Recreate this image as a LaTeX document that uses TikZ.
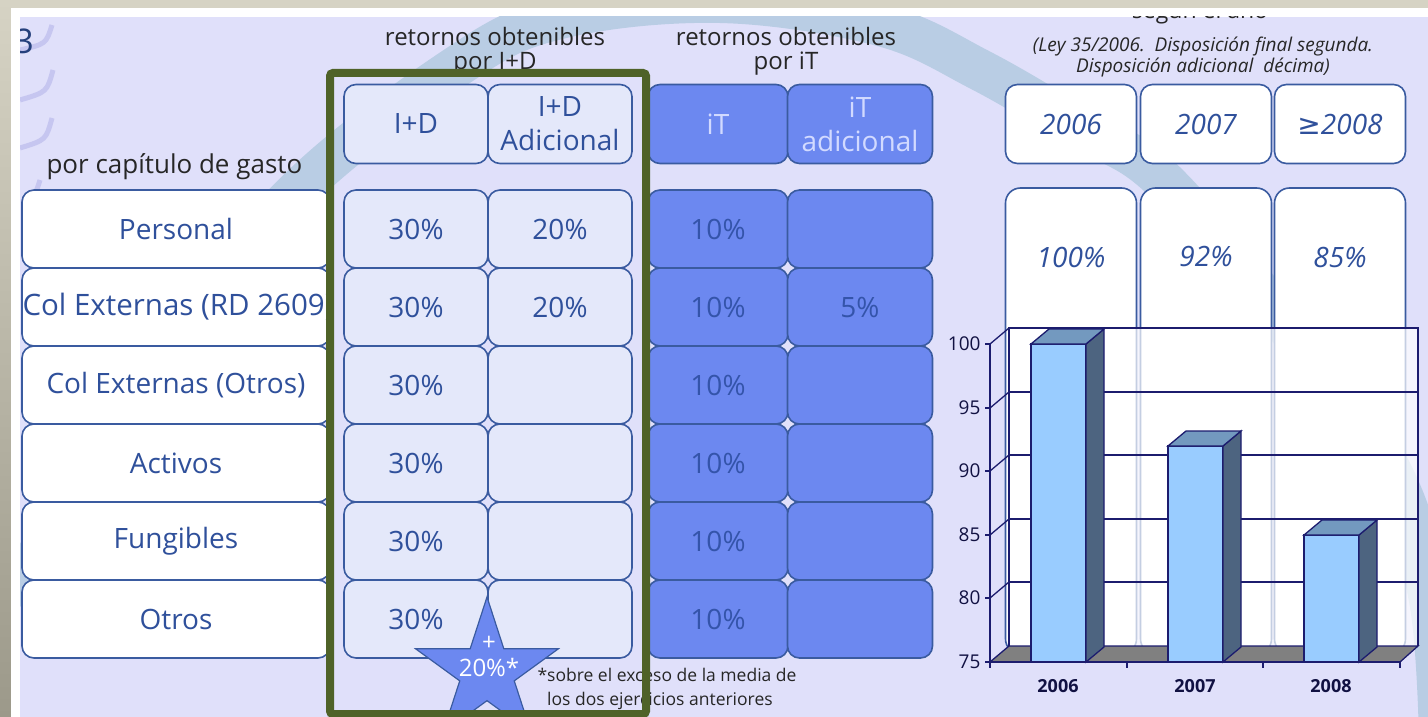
\documentclass[tikz,border=0pt]{standalone}
\usepackage{fontspec}
\setmainfont{Open Sans}
\newfontfamily\dejavu{DejaVu Sans}
\usetikzlibrary{shapes.geometric, positioning}
\definecolor{slidebg}{RGB}{224,224,250}
\definecolor{edgebeige}{RGB}{214,211,196}
\definecolor{edgedark}{RGB}{156,153,138}
\definecolor{swoosh}{RGB}{185,205,228}
\definecolor{decor}{RGB}{198,198,240}
\definecolor{boxline}{RGB}{58,91,160}
\definecolor{txtblue}{RGB}{47,80,155}
\definecolor{idfill}{RGB}{228,232,250}
\definecolor{itfill}{RGB}{108,136,240}
\definecolor{itlight}{RGB}{210,218,255}
\definecolor{itdark}{RGB}{52,84,170}
\definecolor{oliveframe}{RGB}{79,98,40}
\definecolor{chartnavy}{RGB}{28,28,110}
\definecolor{barfront}{RGB}{153,204,255}
\definecolor{barside}{RGB}{77,100,128}
\definecolor{bartop}{RGB}{115,153,191}
\definecolor{floorgray}{RGB}{128,128,128}

\begin{document}
\begin{tikzpicture}[x=1pt, y=-1pt,
  tbox/.style={draw=boxline, line width=1.6, rounded corners=12, inner sep=0pt, align=center, text=txtblue, font=\fontsize{28}{34}\selectfont},
  cell/.style={tbox, minimum width=#1, minimum height=78},
  hcell/.style={tbox, minimum width=#1, minimum height=79},
  pcttxt/.style={text=txtblue, font=\fontsize{28}{34}\selectfont\itshape},
  htitle/.style={align=center, text=black!85, font=\fontsize{24}{24}\selectfont},
  chartline/.style={draw=chartnavy, line width=1.3},
  axnum/.style={anchor=east, text=chartnavy!60!black, font=\fontsize{19}{19}\selectfont},
  yearlbl/.style={text=chartnavy!60!black, font=\fontsize{18}{18}\selectfont\bfseries},
]
  \useasboundingbox (0,0) rectangle (1428,717);
  \fill[edgebeige] (0,0) rectangle (1428,8);
  \shade[top color=edgebeige, bottom color=edgedark] (0,0) rectangle (11,717);
  \fill[white] (11,8) rectangle (1428,717);
  \begin{scope}
  \clip (20,17) rectangle (1428,717);
  \fill[slidebg] (20,17) rectangle (1428,717);
  \draw[swoosh, line width=42] plot[smooth, tension=0.6] coordinates {(10,600) (150,380) (288,200) (456,67) (560,18) (720,2) (880,25) (980,70) (1080,128) (1163,180) (1290,330) (1390,470) (1430,600) (1440,740)};
  \draw[decor, line width=5] (52,25) .. controls (46,44) .. (20,50) (53,70) .. controls (47,92) .. (20,100) (52,118) .. controls (46,140) .. (20,148) (40,180) .. controls (35,196) .. (22,202);
  \node[text=txtblue!80!black, font=\fontsize{34}{34}\selectfont] (three) at (24,41) {3};
  \node[anchor=base, text=black!85, font=\fontsize{23}{23}\selectfont] (segun) at (1200,19) {según el año};

  \node[htitle] (tid) at (495,51) {retornos obtenibles\\por I+D};
  \node[htitle] (tit) at (786,51) {retornos obtenibles\\por iT};
  \node[anchor=west, text=black!85, font=\fontsize{26}{30}\selectfont] (gasto) at (43,167) {por capítulo de gasto};
  \node[align=center, text=black!85, font=\fontsize{19}{17.5}\selectfont\itshape] (ley) at (1203,57) {(Ley 35/2006.\ \ Disposición final segunda.\\Disposición adicional\ \ décima)};

  \node[cell=308, fill=white] (personal) at (176,229) {Personal};
  \node[cell=308, fill=white] (colrd) at (176,307) {\makebox[0pt]{\hspace{4pt}\fontsize{29.5}{34}\selectfont Col Externas (RD 2609)}};
  \node[cell=308, fill=white] (colotros) at (176,385) {Col Externas (Otros)};
  \node[cell=308, fill=white] (activos) at (176,463) {Activos};
  \node[cell=308, fill=white] (fungibles) at (176,541) {Fungibles};
  \node[cell=308, fill=white] (otros) at (176,619) {Otros};

  \node[hcell=144, fill=idfill] (hid) at (416,124) {I+D};
  \node[hcell=144, fill=idfill] (hidad) at (560,124) {I+D\\Adicional};
  \node[cell=144, fill=idfill] (id1) at (416,229) {30\%};
  \node[cell=144, fill=idfill] (id2) at (416,307) {30\%};
  \node[cell=144, fill=idfill] (id3) at (416,385) {30\%};
  \node[cell=144, fill=idfill] (id4) at (416,463) {30\%};
  \node[cell=144, fill=idfill] (id5) at (416,541) {30\%};
  \node[cell=144, fill=idfill] (id6) at (416,619) {30\%};
  \node[cell=144, fill=idfill] (ad1) at (560,229) {20\%};
  \node[cell=144, fill=idfill] (ad2) at (560,307) {20\%};
  \node[cell=144, fill=idfill] (ad3) at (560,385) {};
  \node[cell=144, fill=idfill] (ad4) at (560,463) {};
  \node[cell=144, fill=idfill] (ad5) at (560,541) {};
  \node[cell=144, fill=idfill] (ad6) at (560,619) {};

  \node[hcell=140, fill=itfill, text=itlight] (hit) at (718,124) {iT};
  \node[hcell=145, fill=itfill, text=itlight] (hitad) at (860,124) {iT\\adicional};
  \node[cell=140, fill=itfill, text=itdark] (it1) at (718,229) {10\%};
  \node[cell=140, fill=itfill, text=itdark] (it2) at (718,307) {10\%};
  \node[cell=140, fill=itfill, text=itdark] (it3) at (718,385) {10\%};
  \node[cell=140, fill=itfill, text=itdark] (it4) at (718,463) {10\%};
  \node[cell=140, fill=itfill, text=itdark] (it5) at (718,541) {10\%};
  \node[cell=140, fill=itfill, text=itdark] (it6) at (718,619) {10\%};
  \node[cell=145, fill=itfill, text=itdark] (ita1) at (860,229) {};
  \node[cell=145, fill=itfill, text=itdark] (ita2) at (860,307) {5\%};
  \node[cell=145, fill=itfill, text=itdark] (ita3) at (860,385) {};
  \node[cell=145, fill=itfill, text=itdark] (ita4) at (860,463) {};
  \node[cell=145, fill=itfill, text=itdark] (ita5) at (860,541) {};
  \node[cell=145, fill=itfill, text=itdark] (ita6) at (860,619) {};

  \node[hcell=131, fill=white, font=\fontsize{28}{34}\selectfont\itshape] (y06) at (1071,124) {2006};
  \node[hcell=131, fill=white, font=\fontsize{28}{34}\selectfont\itshape] (y07) at (1206,124) {2007};
  \node[hcell=131, fill=white, font=\fontsize{28}{34}\selectfont\itshape] (y08) at (1340,124) {{\dejavu\itshape ≥}2008};
  \node[tbox, fill=white, rounded corners=15, minimum width=131, minimum height=466] (p06) at (1071,421) {};
  \node[tbox, fill=white, rounded corners=15, minimum width=131, minimum height=466] (p07) at (1206,421) {};
  \node[tbox, fill=white, rounded corners=15, minimum width=131, minimum height=466] (p08) at (1340,421) {};
  \node[pcttxt] (t06) at (1071,257) {100\%};
  \node[pcttxt] (t07) at (1206,257) {92\%};
  \node[pcttxt] (t08) at (1340,257) {85\%};

  \fill[white, opacity=0.7] (1009,328) rectangle (1418,646);
  \draw[chartline] (1009,646) -- (1009,328) -- (1418,328) -- (1418,646);
  \draw[chartline] (1009,392) -- (1418,392) (1009,455) -- (1418,455) (1009,519) -- (1418,519) (1009,582) -- (1418,582);
  \draw[chartline] (990,344) -- (1009,328) (990,408) -- (1009,392) (990,471) -- (1009,455) (990,535) -- (1009,519) (990,598) -- (1009,582);
  \filldraw[chartline, fill=floorgray] (990,662) -- (1400,662) -- (1418,646) -- (1009,646) -- cycle;
  \draw[chartline] (990,344) -- (990,662) -- (1400,662);
  \draw[chartline] (985,344) -- (990,344) (985,408) -- (990,408) (985,471) -- (990,471) (985,535) -- (990,535) (985,598) -- (990,598) (985,662) -- (990,662);
  \draw[chartline] (990,662) -- (990,668) (1127,662) -- (1127,668) (1263,662) -- (1263,668) (1400,662) -- (1400,668);
  \filldraw[chartline, fill=barfront] (1031,662) rectangle (1086,344);
  \filldraw[chartline, fill=barside] (1086,662) -- (1104,647) -- (1104,329) -- (1086,344) -- cycle;
  \filldraw[chartline, fill=bartop] (1031,344) -- (1049,329) -- (1104,329) -- (1086,344) -- cycle;
  \filldraw[chartline, fill=barfront] (1168,662) rectangle (1223,446);
  \filldraw[chartline, fill=barside] (1223,662) -- (1241,647) -- (1241,431) -- (1223,446) -- cycle;
  \filldraw[chartline, fill=bartop] (1168,446) -- (1186,431) -- (1241,431) -- (1223,446) -- cycle;
  \filldraw[chartline, fill=barfront] (1304,662) rectangle (1359,535);
  \filldraw[chartline, fill=barside] (1359,662) -- (1377,647) -- (1377,520) -- (1359,535) -- cycle;
  \filldraw[chartline, fill=bartop] (1304,535) -- (1322,520) -- (1377,520) -- (1359,535) -- cycle;
  \node[axnum] (v100) at (984,344) {100};
  \node[axnum] (v95) at (984,408) {95};
  \node[axnum] (v90) at (984,471) {90};
  \node[axnum] (v85) at (984,535) {85};
  \node[axnum] (v80) at (984,598) {80};
  \node[axnum] (v75) at (984,662) {75};
  \node[yearlbl] (c06) at (1058,686) {2006};
  \node[yearlbl] (c07) at (1195,686) {2007};
  \node[yearlbl] (c08) at (1331,686) {2008};

  \node[star, star points=5, star point ratio=2.618, minimum size=150, inner sep=0pt, fill=itfill, draw=boxline, line width=1.2] (star) at (487,672) {};
  \node[align=center, text=white, font=\fontsize{24}{26}\selectfont] (startxt) at (489,656) {+\\20\%*};
  \node[anchor=north west, align=left, text=black!85, font=\fontsize{17.5}{24}\selectfont] (nota) at (534,665) {*sobre el exceso de la media de\\\phantom{*}los dos ejercicios anteriores};
  \draw[oliveframe, line width=8, rounded corners=3] (330,73) rectangle (646,714);
  \end{scope}
\end{tikzpicture}
\end{document}
